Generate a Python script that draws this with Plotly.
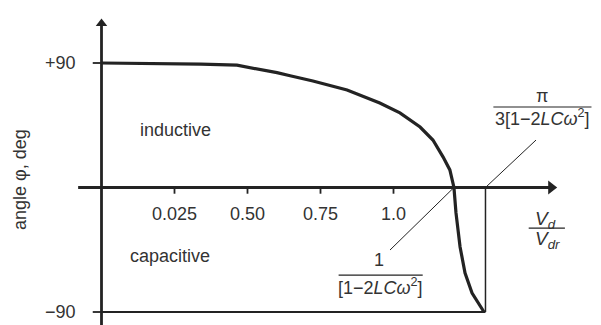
import plotly.graph_objects as go

# ---- data ----
curve_x = [0.0, 0.22, 0.34, 0.464, 0.533, 0.601, 0.646, 0.724, 0.841, 0.953, 1.022,
           1.046, 1.091, 1.135, 1.170, 1.193, 1.207, 1.214, 1.228, 1.245, 1.269, 1.31]
curve_y = [90.0, 89.6, 89.2, 88.4, 85.9, 83.0, 80.8, 77.0, 70.5, 61.1, 53.9,
           50.5, 43.7, 34.3, 22.0, 12.7, 0.0, -18.4, -43.0, -61.8, -76.3, -90.0]

x_tick_vals = [0.25, 0.50, 0.75, 1.0]
x_tick_text = ["0.025", "0.50", "0.75", "1.0"]
y_tick_vals = [90, -90]
y_tick_text = ["+90", "\u221290"]

x_cross = 1.207      # 1/[1-2LCw^2]
x_limit = 1.315      # pi/(3[1-2LCw^2])
x_axis_span = [-0.08, 1.56]
y_axis_span = [-99.4, 122.5]

INK = "#232323"
TXT = "#333333"
FONT = "Liberation Sans, Arial, Helvetica, sans-serif"

fig = go.Figure()

fig.add_trace(go.Scatter(x=curve_x, y=curve_y, mode="lines",
                         line=dict(color=INK, width=3.2),
                         hoverinfo="skip", showlegend=False))

# arrowheads of the axes
fig.add_trace(go.Scatter(x=[x_axis_span[1] - 0.02], y=[0], mode="markers",
                         marker=dict(symbol="triangle-right", size=12, color=INK),
                         hoverinfo="skip", showlegend=False))
fig.add_trace(go.Scatter(x=[0], y=[y_axis_span[1] - 4], mode="markers",
                         marker=dict(symbol="triangle-up", size=10, color=INK),
                         hoverinfo="skip", showlegend=False))

shapes = []
annotations = []

# axis lines
shapes.append(dict(type="line", xref="x", yref="y", x0=x_axis_span[0], x1=x_axis_span[1] - 0.02,
                   y0=0, y1=0, line=dict(color=INK, width=2.8), layer="below"))
shapes.append(dict(type="line", xref="x", yref="y", x0=0, x1=0,
                   y0=y_axis_span[0], y1=y_axis_span[1] - 4, line=dict(color=INK, width=2.8),
                   layer="below"))

# x ticks and labels
for v, t in zip(x_tick_vals, x_tick_text):
    shapes.append(dict(type="line", xref="x", yref="y", x0=v, x1=v, y0=0, y1=-4.5,
                       line=dict(color=INK, width=1.8)))
    annotations.append(dict(x=v, y=-19, xref="x", yref="y", text=t, showarrow=False,
                            xanchor="center", yanchor="middle",
                            font=dict(family=FONT, size=18, color=TXT)))

# y ticks and labels
for v, t in zip(y_tick_vals, y_tick_text):
    shapes.append(dict(type="line", xref="x", yref="y", x0=-0.03, x1=0, y0=v, y1=v,
                       line=dict(color=INK, width=1.8)))
    annotations.append(dict(x=-0.08, y=v, xref="x", yref="y", text=t, showarrow=False,
                            xanchor="right", yanchor="middle",
                            font=dict(family=FONT, size=18, color=TXT)))

# -90 baseline and vertical limit line
shapes.append(dict(type="line", xref="x", yref="y", x0=0, x1=x_limit, y0=-90, y1=-90,
                   line=dict(color=INK, width=2)))
shapes.append(dict(type="line", xref="x", yref="y", x0=x_limit, x1=x_limit, y0=0, y1=-90,
                   line=dict(color=INK, width=1.5)))

# leader lines
shapes.append(dict(type="line", xref="x", yref="y", x0=x_cross, y0=0, x1=0.988, y1=-45.2,
                   line=dict(color=INK, width=1)))
shapes.append(dict(type="line", xref="x", yref="y", x0=x_limit, y0=0, x1=1.488, y1=34.3,
                   line=dict(color=INK, width=1)))

# fraction lines
shapes.append(dict(type="line", xref="x", yref="y", x0=1.342, x1=1.678, y0=58.2, y1=58.2,
                   line=dict(color=INK, width=1.2)))
shapes.append(dict(type="line", xref="x", yref="y", x0=0.812, x1=1.10, y0=-63.3, y1=-63.3,
                   line=dict(color=INK, width=1.2)))
shapes.append(dict(type="line", xref="x", yref="y", x0=1.463, x1=1.587, y0=-29.3, y1=-29.3,
                   line=dict(color=INK, width=1.2)))

def txt(x, y, s, size=18, xanchor="center", angle=0):
    annotations.append(dict(x=x, y=y, xref="x", yref="y", text=s, showarrow=False,
                            xanchor=xanchor, yanchor="middle", textangle=angle,
                            font=dict(family=FONT, size=size, color=TXT)))

txt(0.253, 41.6, "inductive")
txt(0.235, -49.5, "capacitive")
txt(-0.279, 5.4, "angle \u03c6, deg", size=18, angle=-90)

txt(1.509, 66.0, "\u03c0", size=18)
txt(1.510, 50.5, "3[1\u22122<i>LC\u03c9</i><sup>2</sup>]", size=18)
txt(0.950, -52.4, "1", size=18)
txt(0.957, -71.5, "[1\u22122<i>LC\u03c9</i><sup>2</sup>]", size=18)
txt(1.520, -23.8, "<i>V<sub>d</sub></i>", size=19)
txt(1.526, -38.2, "<i>V<sub>dr</sub></i>", size=19)

fig.update_layout(
    width=601, height=325,
    margin=dict(l=0, r=0, t=0, b=0),
    paper_bgcolor="white", plot_bgcolor="white",
    xaxis=dict(range=[-0.3476, 1.7106], visible=False, fixedrange=True),
    yaxis=dict(range=[-99.4, 135.54], visible=False, fixedrange=True),
    shapes=shapes, annotations=annotations, showlegend=False,
)

fig.write_html("out.html")
